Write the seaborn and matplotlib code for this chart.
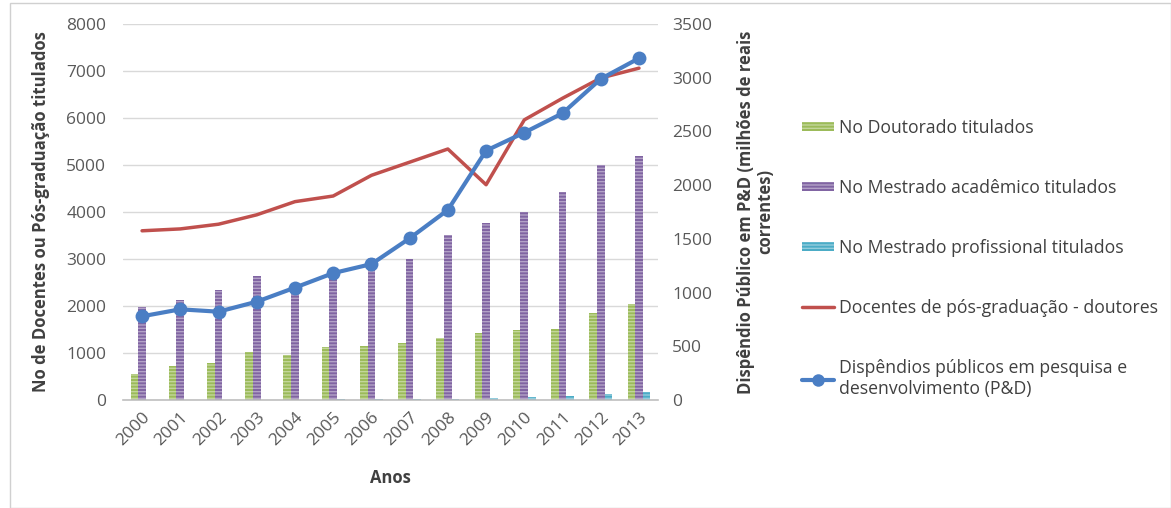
import numpy as np
import pandas as pd
import matplotlib
matplotlib.use("Agg")
import matplotlib.pyplot as plt
from matplotlib.patches import Patch, Rectangle
from matplotlib.lines import Line2D
import seaborn as sns

anos = ["2000", "2001", "2002", "2003", "2004", "2005", "2006",
        "2007", "2008", "2009", "2010", "2011", "2012", "2013"]
doutorado = [550, 720, 780, 1020, 960, 1120, 1150, 1210, 1310, 1420, 1480, 1510, 1850, 2040]
mestrado_acad = [1970, 2120, 2350, 2640, 2400, 2750, 3020, 2990, 3500, 3770, 4000, 4420, 5000, 5200]
mestrado_prof = [0, 0, 0, 5, 10, 15, 30, 20, 20, 50, 60, 90, 130, 180]
docentes = [3600, 3640, 3740, 3940, 4220, 4340, 4780, 5060, 5340, 4580, 5960, 6420, 6850, 7060]
dispendio = [779, 844, 822, 915, 1046, 1181, 1265, 1505, 1769, 2321, 2489, 2669, 2989, 3181]

s_dout = "No Doutorado titulados"
s_acad = "No Mestrado acadêmico titulados"
s_prof = "No Mestrado profissional titulados"
s_doc = "Docentes de pós-graduação - doutores"
s_disp = "Dispêndios públicos em pesquisa e\ndesenvolvimento (P&D)"

c_green = "#9BBB59"
c_purple = "#8064A2"
c_cyan = "#4BACC6"
c_red = "#C0504D"
c_blue = "#4A7EC4"
h_green = "#C3D69B"
h_purple = "#B3A2C7"
h_cyan = "#93CDDD"

sns.set_style("white")
plt.rcParams["font.family"] = ["Open Sans", "DejaVu Sans"]
plt.rcParams["hatch.linewidth"] = 1.0

df = pd.DataFrame({
    "Ano": anos * 3,
    "Série": [s_dout] * 14 + [s_acad] * 14 + [s_prof] * 14,
    "Valor": doutorado + mestrado_acad + mestrado_prof,
})

fig = plt.figure(figsize=(11.71, 5.08), dpi=100)
ax = fig.add_axes([0.105, 0.2126, 0.457, 0.7402])

sns.barplot(data=df, x="Ano", y="Valor", hue="Série",
            palette=[c_green, c_purple, c_cyan], width=0.6,
            legend=False, ax=ax, saturation=1)

hatch_cols = {c_green: h_green, c_purple: h_purple, c_cyan: h_cyan}
fills = [c_green] * 14 + [c_purple] * 14 + [c_cyan] * 14
for p, fc in zip(ax.patches, fills):
    p.set_facecolor(fc)
    p.set_edgecolor(hatch_cols[fc])
    p.set_linewidth(0)
    p.set_hatch("-----")

xs = np.arange(len(anos))
sns.lineplot(x=xs, y=docentes, ax=ax, color=c_red, linewidth=2.5)

ax.set_ylim(0, 8000)
ax.set_xlim(-0.5, 13.5)
ax.set_yticks(np.arange(0, 8001, 1000))
ax.yaxis.grid(True, color="#D9D9D9", linewidth=1)
ax.set_axisbelow(True)
for s in ["top", "right", "left"]:
    ax.spines[s].set_visible(False)
ax.spines["bottom"].set_color("#BFBFBF")
ax.spines["bottom"].set_linewidth(1.2)
ax.tick_params(axis="both", length=0, labelsize=12.5, labelcolor="#595959")
ax.tick_params(axis="y", pad=12)
ax.set_xticks(xs)
ax.set_xticklabels(anos, rotation=45, ha="right", rotation_mode="anchor")
ax.tick_params(axis="x", pad=7)
ax.set_xlabel("Anos", fontsize=12, fontweight="bold", color="#404040", labelpad=14)
ax.set_ylabel("No de Docentes ou Pós-graduação titulados", fontsize=12,
              fontweight="bold", color="#404040", labelpad=12)

ax2 = ax.twinx()
sns.lineplot(x=xs, y=dispendio, ax=ax2, color=c_blue, linewidth=3,
             marker="o", markersize=10, markeredgewidth=0)
ax2.set_ylim(0, 3500)
ax2.set_yticks(np.arange(0, 3501, 500))
ax2.grid(False)
for s in ["top", "right", "left", "bottom"]:
    ax2.spines[s].set_visible(False)
ax2.tick_params(axis="y", length=0, labelsize=12.5, labelcolor="#595959", pad=10)
ax2.set_ylabel("Dispêndio Público em P&D (milhões de reais\ncorrentes)", fontsize=12,
               fontweight="bold", color="#404040", labelpad=18, linespacing=1.1)

handles = [
    Patch(facecolor=c_green, edgecolor=h_green, hatch="-----", linewidth=0),
    Patch(facecolor=c_purple, edgecolor=h_purple, hatch="-----", linewidth=0),
    Patch(facecolor=c_cyan, edgecolor=h_cyan, hatch="-----", linewidth=0),
    Line2D([0], [0], color=c_red, linewidth=2.5),
    Line2D([0], [0], color=c_blue, linewidth=3, marker="o", markersize=9, markeredgewidth=0),
]
labels = [s_dout, s_acad, s_prof, s_doc, s_disp]
leg = fig.legend(handles, labels, loc="upper left", bbox_to_anchor=(0.671, 0.797),
                 frameon=False, fontsize=12.7, labelspacing=2.38, handlelength=1.85,
                 handleheight=0.45, handletextpad=0.25, labelcolor="#404040")

fig.patches.append(Rectangle((10 / 1171, 0), 1 - 10 / 1171, 1 - 3 / 508,
                             transform=fig.transFigure, fill=False,
                             edgecolor="#D0D0D0", linewidth=1))

fig.savefig("out.png", dpi=100)
